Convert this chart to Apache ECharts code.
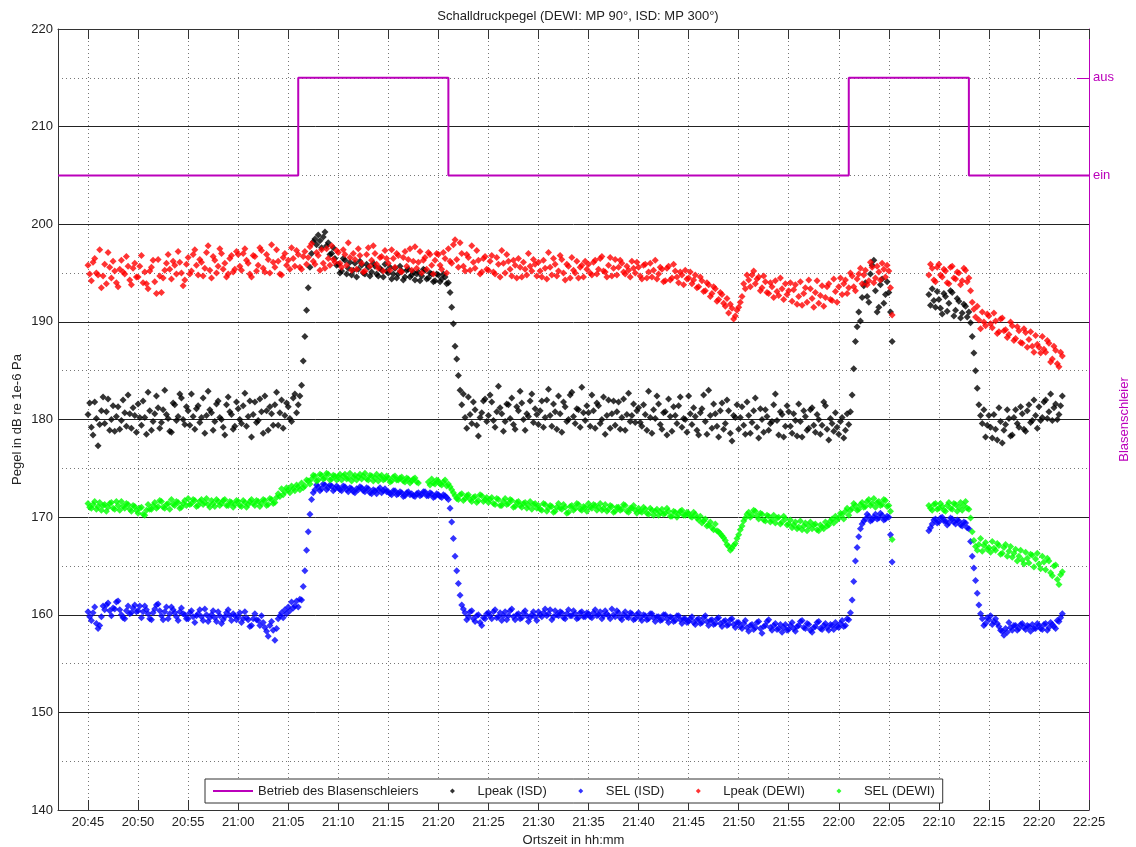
<!DOCTYPE html>
<html>
<head>
<meta charset="utf-8">
<title>Schalldruckpegel</title>
<script src="https://cdn.jsdelivr.net/npm/echarts@6/dist/echarts.min.js"></script>
<style>
  html, body { margin: 0; padding: 0; background: #fff; }
  #chart { width: 1136px; height: 847px; }
</style>
</head>
<body>
<div id="chart"></div>
<script>
// samples every 10 s starting 20:45 (null = no data)
const sampleStart = '20:45';
const sampleStepSec = 10;

const lpeakIsd = [
  180.5, 181.7, 179.2, 178.4, 181.8, 180.1, 177.3, 179.5, 180.9, 182.3, 179.6, 180.8, 182.1, 178.9, 180.0, 181.4, 178.8, 180.3, 181.3, 179.0, 179.9, 182.0, 180.7, 179.3, 182.5, 180.6, 179.1, 181.2, 180.4, 178.7,
  181.6, 180.2, 179.4, 181.9, 180.2, 178.5, 182.8, 180.9, 178.9, 179.8, 180.6, 182.4, 181.2, 179.1, 179.7, 181.0, 183.0, 180.5, 180.1, 178.8, 178.7, 181.7, 181.5, 179.9, 180.3, 182.6, 182.2, 180.0, 179.5, 181.3,
  180.9, 179.4, 182.6, 180.3, 179.0, 181.1, 181.4, 179.7, 180.2, 182.2, 178.6, 180.4, 182.9, 181.0, 180.7, 178.9, 179.8, 181.6, 181.9, 180.2, 180.0, 179.2, 178.4, 181.5, 182.3, 180.8, 180.5, 179.0, 179.3, 181.8,
  181.1, 180.0, 179.6, 181.4, 182.7, 179.3, 180.3, 181.9, 178.2, 180.5, 181.8, 179.7, 179.9, 182.1, 180.8, 178.6, 182.4, 180.9, 178.9, 181.3, 180.6, 179.4, 181.5, 182.8, 179.4, 180.7, 182.0, 179.1, 180.4, 181.7,
  181.3, 180.1, 179.8, 182.2, 182.6, 180.7, 181.5, 182.4, 183.5, 186.0, 188.5, 191.2, 193.5, 195.6, 197.0, 198.2, 198.5, 197.9, 198.9, 198.3, 197.6, 198.7, 199.2, 197.8, 198.1, 196.9, 197.0, 197.6, 196.5, 195.8,
  195.9, 195.0, 195.2, 196.5, 196.3, 194.9, 195.5, 196.1, 194.8, 195.3, 196.0, 194.6, 195.4, 196.2, 195.8, 195.0, 194.9, 195.9, 195.6, 194.7, 195.1, 196.0, 195.7, 194.9, 194.7, 195.5, 195.3, 194.6, 195.9, 195.2,
  195.0, 195.6, 194.4, 194.9, 195.5, 194.5, 194.9, 195.7, 195.2, 194.3, 194.6, 195.3, 195.4, 194.6, 194.8, 195.1, 194.3, 194.9, 195.1, 194.2, 194.7, 195.4, 195.3, 194.4, 194.5, 195.0, 194.9, 194.1, 194.2, 194.9,
  194.8, 194.1, 194.4, 194.9, 194.6, 193.9, 194.0, 193.0, 191.5, 189.8, 187.5, 186.2, 184.5, 183.0, 181.5, 182.6, 180.2, 179.1, 182.3, 180.5, 179.6, 181.8, 181.0, 179.4, 178.3, 180.2, 180.7, 181.9, 182.1, 179.8,
  180.4, 182.5, 181.8, 179.9, 179.2, 180.8, 183.4, 181.2, 180.6, 178.8, 179.8, 181.6, 181.5, 180.1, 182.2, 179.5, 179.0, 181.3, 180.9, 182.9, 181.7, 180.0, 178.9, 180.6, 180.3, 181.9, 182.6, 179.7, 181.1, 180.5,
  179.5, 180.9, 181.9, 179.2, 180.2, 182.0, 183.1, 180.4, 179.3, 181.6, 180.8, 179.0, 182.4, 180.6, 178.7, 181.8, 181.3, 179.8, 180.0, 182.5, 182.8, 180.3, 179.6, 181.1, 181.0, 179.2, 183.3, 180.7, 179.9, 181.4,
  180.7, 179.3, 182.5, 180.9, 179.1, 181.7, 181.4, 179.6, 180.0, 182.3, 178.5, 180.4, 182.0, 179.1, 180.6, 181.9, 179.4, 180.8, 181.8, 179.0, 180.2, 182.1, 178.9, 180.5, 182.7, 179.8, 180.4, 181.6, 179.7, 180.9,
  181.2, 179.7, 179.3, 181.5, 180.5, 178.9, 182.9, 180.2, 178.6, 181.0, 180.1, 182.4, 181.6, 179.5, 179.0, 180.7, 180.8, 178.4, 182.1, 180.3, 178.8, 181.3, 180.4, 179.6, 181.4, 182.3, 179.2, 180.1, 180.0, 178.7,
  182.4, 180.6, 179.5, 181.2, 180.3, 178.9, 178.4, 180.7, 181.1, 182.5, 179.8, 178.5, 183.0, 180.4, 179.1, 181.6, 180.6, 179.3, 178.2, 180.9, 181.7, 179.0, 179.6, 182.0, 180.9, 178.6, 177.8, 180.4, 180.2, 181.5,
  179.0, 180.2, 181.3, 179.4, 178.5, 181.8, 180.4, 178.6, 179.7, 180.9, 182.2, 179.2, 178.1, 181.1, 180.0, 178.7, 181.0, 180.3, 178.9, 179.6, 179.8, 181.5, 182.6, 179.9, 178.4, 180.8, 180.5, 178.2, 179.3, 181.4,
  180.8, 179.3, 178.6, 180.6, 179.9, 178.3, 181.6, 179.8, 178.2, 180.9, 180.3, 178.9, 179.1, 181.0, 181.2, 179.4, 178.7, 180.5, 180.0, 178.5, 179.4, 181.8, 181.4, 179.0, 177.9, 180.1, 179.6, 178.8, 180.7, 179.2,
  178.5, 179.8, 180.2, 178.1, 178.9, 180.6, 179.5, 180.8, 182.5, 185.2, 188.0, 189.5, 191.0, 190.1, 192.5, 193.7, 194.0, 192.6, 192.0, 194.9, 195.8, 196.3, 193.2, 191.0, 191.5, 193.8, 194.4, 191.9, 192.8, 194.1,
  193.0, 191.0, 188.0, null, null, null, null, null, null, null, null, null, null, null, null, null, null, null, null, null, null, null, null, null, 192.8, 191.7, 193.4, 192.2, 191.5, 193.1,
  192.3, 191.4, 190.8, 192.9, 192.6, 191.1, 191.9, 193.2, 193.0, 190.6, 191.2, 192.4, 192.1, 190.4, 190.9, 191.8, 191.6, 190.5, 191.0, 189.9, 188.5, 186.8, 185.0, 183.2, 181.5, 180.4, 179.6, 181.0, 178.2, 179.4,
  180.4, 179.2, 178.1, 180.5, 179.0, 177.9, 181.2, 179.8, 177.6, 178.9, 179.5, 181.0, 180.1, 178.3, 178.4, 180.2, 181.0, 179.6, 179.2, 181.3, 180.6, 179.0, 178.8, 180.9, 181.5, 179.7, 179.9, 182.0, 180.4, 179.1,
  181.3, 179.9, 180.2, 181.8, 182.0, 180.1, 180.8, 182.6, 179.9, 181.2, 181.6, 180.0, 180.5, 181.4, 182.4
];

const selIsd = [
  160.3, 159.8, 159.4, 160.2, 160.8, 159.1, 158.6, 158.9, 159.8, 160.9, 160.5, 161.0, 161.2, 160.4, 159.9, 160.7, 160.6, 161.3, 161.4, 160.5, 160.0, 159.7, 159.6, 160.4, 160.9, 160.1, 160.2, 160.7, 161.0, 160.3,
  160.4, 160.9, 159.7, 160.3, 160.9, 160.5, 160.1, 159.6, 159.5, 160.2, 160.6, 161.0, 161.1, 160.4, 159.9, 159.5, 160.3, 160.8, 159.6, 160.1, 160.8, 160.5, 160.2, 159.8, 159.4, 160.3, 160.7, 160.1, 160.0, 159.6,
  159.6, 160.2, 160.4, 159.8, 159.2, 159.9, 160.1, 160.5, 159.8, 159.4, 160.6, 160.0, 159.3, 159.7, 160.0, 160.4, 159.7, 159.3, 160.3, 159.9, 159.1, 159.5, 159.8, 160.2, 160.5, 159.9, 159.4, 160.1, 159.9, 159.5,
  159.8, 160.2, 159.2, 159.6, 160.3, 159.7, 159.5, 158.8, 158.9, 159.6, 160.1, 159.5, 159.4, 158.9, 159.9, 159.2, 158.7, 158.3, 157.8, 158.9, 159.3, 158.4, 157.4, 158.6, 159.6, 159.9, 160.2, 159.7, 160.5, 160.1,
  160.8, 160.4, 161.3, 160.7, 160.9, 161.4, 160.8, 161.6, 161.5, 162.9, 164.5, 166.6, 168.5, 170.3, 171.8, 172.5, 172.8, 173.3, 173.1, 172.7, 172.9, 173.4, 173.3, 172.8, 173.0, 173.3, 173.2, 172.7, 172.9, 173.2,
  173.0, 172.8, 172.7, 173.2, 173.1, 172.8, 172.6, 173.0, 172.9, 172.6, 172.5, 172.9, 172.8, 173.1, 173.0, 172.7, 172.6, 173.0, 172.9, 172.5, 172.4, 172.8, 172.7, 172.4, 172.8, 173.0, 172.5, 172.7, 172.9, 172.6,
  172.6, 172.4, 172.3, 172.7, 172.7, 172.3, 172.4, 172.6, 172.5, 172.1, 172.2, 172.5, 172.6, 172.3, 172.4, 172.2, 172.1, 172.4, 172.5, 172.2, 172.3, 172.6, 172.6, 172.2, 172.2, 172.5, 172.4, 172.0, 172.1, 172.4,
  172.3, 172.1, 172.0, 172.3, 172.2, 172.0, 171.8, 170.9, 169.5, 167.8, 166.0, 164.5, 163.2, 162.0, 161.0, 160.6, 160.2, 159.5, 159.8, 160.3, 160.4, 159.6, 159.3, 159.9, 160.0, 159.2, 158.9, 159.7, 159.6, 160.1,
  160.2, 159.9, 159.6, 160.3, 160.5, 159.7, 159.8, 160.2, 159.4, 159.9, 160.3, 159.5, 159.9, 160.4, 160.6, 159.8, 159.5, 160.0, 160.1, 159.6, 159.7, 160.2, 160.4, 159.9, 159.3, 159.7, 160.0, 160.3, 159.8, 159.4,
  160.3, 160.0, 159.8, 160.2, 160.6, 159.9, 160.1, 160.5, 159.5, 159.8, 160.4, 160.0, 159.9, 160.3, 160.2, 159.7, 159.6, 160.1, 160.5, 159.9, 159.9, 160.4, 160.1, 159.6, 159.7, 160.2, 160.3, 159.8, 159.8, 160.2,
  160.1, 159.8, 159.7, 160.2, 160.5, 159.9, 160.0, 160.3, 159.6, 159.9, 160.4, 160.1, 159.9, 159.6, 160.6, 160.0, 159.8, 160.4, 160.2, 159.7, 159.5, 160.0, 160.3, 159.8, 159.7, 160.2, 160.1, 159.5, 159.6, 160.0,
  160.2, 159.7, 159.4, 160.0, 159.9, 159.5, 159.6, 160.1, 160.1, 159.7, 159.3, 159.8, 159.8, 159.4, 159.5, 160.0, 160.0, 159.6, 159.2, 159.8, 159.7, 159.3, 159.4, 159.9, 159.9, 159.5, 159.1, 159.6, 159.6, 159.2,
  159.3, 159.6, 159.8, 159.2, 159.0, 159.5, 159.6, 159.1, 159.2, 159.7, 159.9, 159.3, 158.9, 159.4, 159.5, 159.0, 159.1, 159.6, 159.7, 159.1, 158.8, 159.3, 159.4, 158.9, 159.0, 159.5, 159.6, 159.0, 158.7, 159.2,
  159.2, 158.8, 158.6, 159.1, 159.4, 158.7, 158.3, 158.9, 159.0, 158.5, 158.7, 159.2, 159.3, 158.6, 158.1, 158.8, 158.9, 159.3, 159.5, 158.7, 158.4, 158.9, 159.1, 158.5, 158.6, 159.0, 158.2, 158.7, 159.0, 158.4,
  158.5, 158.9, 159.2, 158.6, 158.3, 158.8, 158.9, 159.3, 159.4, 158.7, 158.6, 159.1, 159.0, 158.4, 158.2, 158.7, 158.8, 159.2, 159.3, 158.6, 158.5, 158.9, 159.1, 158.7, 158.4, 159.0, 158.9, 158.5, 159.2, 158.8,
  158.7, 159.1, 159.4, 158.8, 158.9, 159.6, 159.5, 160.2, 161.5, 163.4, 165.5, 166.9, 168.0, 168.8, 169.3, 169.6, 169.8, 170.3, 170.1, 169.6, 169.7, 170.0, 170.3, 169.8, 169.9, 170.4, 170.2, 169.7, 169.8, 170.1,
  170.0, 168.2, 165.4, null, null, null, null, null, null, null, null, null, null, null, null, null, null, null, null, null, null, null, null, null, 168.6, 168.9, 169.3, 169.7, 169.8, 169.4,
  169.5, 169.9, 170.0, 169.6, 169.6, 169.2, 169.4, 169.9, 169.8, 169.5, 169.3, 169.7, 169.6, 169.2, 169.1, 169.5, 169.4, 168.9, 168.8, 167.5, 166.0, 164.8, 163.5, 162.2, 161.0, 160.1, 159.6, 158.9, 159.1, 159.7,
  159.5, 159.9, 159.0, 159.3, 159.6, 159.1, 158.8, 158.4, 158.3, 157.9, 158.6, 158.2, 159.2, 158.7, 158.4, 158.9, 158.9, 158.4, 158.6, 159.0, 159.1, 158.7, 158.5, 158.9, 158.8, 158.3, 159.0, 158.6, 158.6, 159.1,
  158.9, 158.6, 158.5, 159.0, 159.1, 158.4, 158.7, 159.2, 159.0, 158.8, 158.6, 159.4, 159.3, 159.7, 160.1
];

const lpeakDewi = [
  195.8, 194.9, 194.2, 196.1, 196.5, 195.0, 194.8, 197.4, 193.5, 194.7, 195.9, 193.9, 197.1, 195.6, 194.5, 196.2, 195.2, 194.0, 193.6, 195.4, 196.3, 195.1, 194.9, 196.7, 195.7, 194.3, 193.8, 195.5, 196.0, 194.6,
  194.6, 195.7, 196.8, 194.0, 195.1, 193.9, 193.4, 195.2, 195.6, 196.3, 194.1, 192.9, 196.4, 194.7, 193.0, 194.5, 195.3, 196.0, 196.9, 195.4, 194.4, 196.2, 195.8, 194.9, 197.2, 196.1, 195.0, 193.7, 194.3, 195.9,
  196.6, 194.9, 195.2, 196.9, 197.4, 195.8, 194.8, 196.4, 196.1, 194.7, 195.5, 197.1, 197.8, 195.3, 194.5, 196.7, 196.3, 195.0, 195.7, 197.5, 197.0, 195.4, 196.0, 194.6, 194.9, 196.5, 196.8, 195.1, 195.4, 197.2,
  196.9, 195.7, 195.3, 197.0, 197.5, 196.3, 196.0, 194.9, 194.6, 196.8, 196.7, 195.2, 195.8, 197.6, 197.3, 195.5, 195.1, 196.9, 196.4, 195.0, 197.9, 196.1, 195.6, 197.4, 196.2, 194.9, 194.8, 196.6, 197.0, 195.8,
  196.3, 195.4, 197.6, 196.5, 195.7, 197.3, 196.9, 195.6, 195.4, 196.7, 197.2, 195.9, 196.6, 197.7, 198.0, 196.2, 195.9, 197.1, 196.8, 195.3, 197.4, 196.0, 195.5, 197.5, 196.5, 195.8, 197.8, 196.4, 196.1, 197.3,
  197.1, 196.0, 195.6, 197.4, 196.9, 195.8, 198.1, 196.6, 195.3, 197.0, 196.4, 195.4, 197.5, 196.8, 196.0, 195.1, 195.2, 196.9, 197.6, 195.7, 196.3, 197.8, 197.0, 195.9, 195.5, 196.6, 196.7, 195.2, 197.3, 196.5,
  196.0, 195.3, 197.4, 196.5, 195.6, 197.0, 196.8, 195.2, 195.1, 196.6, 197.2, 195.7, 196.4, 197.5, 195.3, 196.2, 197.7, 195.5, 196.1, 197.2, 195.0, 196.3, 196.6, 195.4, 197.1, 196.9, 195.8, 194.9, 196.3, 197.0,
  196.9, 195.8, 195.4, 197.1, 196.5, 195.0, 197.5, 196.2, 196.0, 197.9, 198.4, 196.4, 195.6, 198.1, 197.0, 195.7, 195.2, 196.9, 196.6, 195.3, 197.8, 196.1, 195.5, 197.3, 196.3, 194.9, 195.1, 196.5, 196.7, 195.4,
  195.3, 196.2, 196.8, 195.1, 194.9, 196.6, 195.9, 194.6, 197.3, 196.0, 195.0, 196.9, 196.2, 195.4, 194.7, 196.3, 195.8, 194.5, 196.5, 195.6, 194.6, 196.1, 195.4, 194.8, 197.0, 195.7, 195.2, 196.4, 195.9, 194.7,
  196.1, 195.2, 194.6, 196.3, 195.5, 194.4, 197.1, 195.6, 194.8, 196.5, 195.9, 194.7, 195.2, 196.8, 196.4, 195.0, 194.3, 195.9, 195.7, 194.5, 196.6, 195.3, 195.0, 196.2, 194.5, 195.6, 195.8, 194.6, 196.2, 195.4,
  195.9, 195.0, 194.8, 196.1, 196.3, 194.9, 195.4, 196.5, 196.7, 195.2, 195.1, 194.6, 195.8, 196.6, 194.7, 195.5, 196.4, 194.8, 195.6, 196.3, 196.0, 195.1, 194.9, 195.7, 195.3, 194.6, 196.2, 195.5, 195.0, 196.1,
  195.6, 194.7, 194.4, 195.8, 195.9, 194.5, 195.1, 196.0, 194.6, 195.3, 196.3, 194.4, 194.9, 195.6, 195.4, 194.1, 194.2, 195.5, 195.7, 194.3, 194.5, 195.9, 195.2, 194.6, 194.0, 195.1, 194.8, 193.8, 195.3, 194.4,
  194.5, 195.1, 193.9, 194.3, 194.8, 193.5, 193.6, 194.6, 194.2, 193.1, 193.2, 194.0, 193.8, 192.6, 192.9, 193.6, 193.4, 192.1, 192.3, 193.0, 192.8, 191.9, 191.6, 192.4, 190.9, 191.8, 191.4, 190.3, 190.6, 191.2,
  191.5, 192.0, 192.6, 193.9, 193.4, 194.8, 194.3, 193.6, 194.8, 195.2, 193.9, 194.4, 194.6, 193.2, 193.5, 194.7, 194.1, 193.0, 192.9, 194.0, 193.6, 192.5, 194.2, 193.1, 192.7, 194.5, 193.4, 192.3, 193.9, 192.8,
  193.2, 194.0, 192.1, 193.3, 193.8, 191.8, 192.6, 194.1, 191.7, 192.9, 193.5, 192.0, 194.3, 193.4, 192.4, 191.5, 193.0, 194.2, 191.9, 192.7, 193.7, 191.6, 192.5, 193.6, 193.9, 192.3, 192.2, 194.4, 193.1, 192.0,
  193.6, 194.5, 192.8, 193.9, 194.3, 192.9, 193.5, 195.0, 194.7, 193.6, 193.2, 194.4, 194.9, 195.5, 193.9, 194.8, 195.3, 193.8, 194.2, 196.1, 195.6, 194.0, 194.5, 195.7, 195.1, 194.3, 196.0, 195.4, 194.6, 195.8,
  195.2, 193.5, 190.7, null, null, null, null, null, null, null, null, null, null, null, null, null, null, null, null, null, null, null, null, null, 194.8, 195.9, 195.5, 194.3, 194.1, 195.6,
  195.9, 194.8, 194.6, 195.4, 195.2, 194.0, 193.9, 195.6, 195.7, 194.5, 194.4, 195.1, 195.0, 193.8, 194.2, 195.5, 195.3, 194.1, 194.5, 193.2, 192.0, 191.3, 190.5, 191.6, 190.2, 189.3, 191.0, 190.0, 189.6, 190.8,
  190.6, 189.8, 189.4, 190.9, 190.1, 188.8, 189.0, 190.3, 190.4, 189.1, 189.2, 188.4, 188.7, 190.0, 189.6, 188.1, 188.3, 189.5, 189.1, 187.9, 187.8, 189.3, 188.9, 187.4, 188.2, 189.0, 187.5, 186.9, 188.6, 187.7,
  187.4, 186.8, 188.5, 187.2, 186.9, 188.1, 187.8, 185.9, 186.2, 187.5, 187.1, 185.7, 185.4, 186.9, 186.5
];

const selDewi = [
  171.4, 171.0, 170.9, 171.3, 171.6, 170.8, 171.1, 171.5, 170.7, 171.2, 171.3, 170.6, 171.0, 171.4, 171.5, 170.9, 170.8, 171.6, 171.2, 170.7, 171.6, 171.1, 170.9, 171.4, 171.3, 170.8, 170.6, 171.2, 171.1, 170.7,
  170.4, 170.9, 171.0, 170.3, 170.2, 170.7, 171.3, 170.8, 170.8, 171.2, 171.5, 170.9, 171.1, 171.7, 171.6, 171.0, 170.9, 171.3, 171.4, 170.8, 171.8, 171.3, 171.2, 171.6, 171.5, 170.9, 171.0, 171.4, 171.7, 171.2,
  171.9, 171.3, 171.4, 171.8, 171.7, 171.1, 171.2, 171.6, 171.8, 171.3, 171.5, 171.9, 171.3, 171.0, 171.7, 171.4, 171.1, 171.8, 171.6, 171.2, 171.4, 171.7, 171.8, 171.2, 171.2, 171.6, 171.5, 171.0, 171.3, 171.7,
  171.6, 171.2, 171.1, 171.7, 171.5, 171.0, 171.3, 171.6, 171.8, 171.4, 171.2, 171.7, 171.6, 171.1, 171.4, 171.8, 171.7, 171.2, 171.3, 171.9, 171.8, 171.4, 171.5, 172.0, 172.4, 172.1, 172.9, 172.3, 172.6, 173.0,
  172.8, 172.5, 173.2, 172.9, 172.7, 173.3, 173.1, 172.8, 173.5, 173.0, 173.2, 173.8, 173.7, 173.4, 173.9, 174.3, 174.2, 173.7, 173.8, 174.4, 174.3, 173.9, 174.0, 174.5, 174.4, 173.8, 173.9, 174.3, 174.2, 173.8,
  174.1, 174.4, 173.8, 174.2, 174.4, 173.9, 174.0, 174.5, 173.7, 174.1, 174.3, 173.8, 174.1, 174.4, 173.9, 174.2, 174.5, 173.9, 173.8, 174.3, 174.2, 173.7, 174.0, 174.4, 173.7, 174.1, 174.3, 173.8, 173.9, 174.2,
  174.0, 173.6, 173.7, 174.1, 174.2, 173.8, 173.8, 174.0, 174.1, 173.7, 173.6, 174.0, 173.9, 173.5, 173.7, 173.9, 174.0, 173.6, 173.5, null, null, null, null, null, 173.6, 173.3, 173.9, 173.5, 173.4, 173.8,
  173.7, 173.4, 173.3, 173.6, 173.8, 173.2, 173.4, 173.1, 172.8, 172.5, 172.2, 171.9, 171.8, 172.3, 172.4, 171.7, 171.9, 172.2, 172.3, 171.8, 171.6, 172.0, 172.1, 171.5, 171.7, 172.3, 172.2, 171.6, 171.8, 172.0,
  171.5, 171.8, 172.0, 171.4, 171.3, 171.9, 171.8, 171.2, 171.2, 171.6, 171.9, 171.3, 171.4, 171.8, 171.7, 171.0, 171.1, 171.5, 171.6, 171.2, 171.0, 171.4, 171.5, 170.9, 171.2, 171.6, 170.8, 171.3, 171.4, 170.9,
  171.2, 170.8, 170.7, 171.4, 171.3, 170.6, 170.9, 171.2, 171.1, 170.5, 170.6, 171.0, 171.4, 170.9, 170.8, 171.3, 171.0, 170.4, 170.5, 171.1, 171.2, 170.7, 170.9, 171.4, 171.3, 170.8, 170.7, 171.1, 171.0, 170.6,
  171.4, 171.0, 170.9, 171.3, 171.2, 170.7, 171.0, 171.4, 170.7, 170.9, 171.3, 170.6, 170.8, 171.2, 171.1, 170.5, 170.6, 171.0, 171.0, 170.7, 170.8, 171.3, 171.2, 170.6, 170.5, 170.9, 170.9, 171.2, 170.7, 170.4,
  170.9, 170.6, 170.5, 171.0, 170.8, 170.4, 170.3, 170.9, 170.7, 170.2, 170.6, 170.8, 170.2, 170.5, 170.8, 170.3, 170.4, 170.9, 170.6, 170.1, 170.1, 170.6, 170.5, 170.0, 170.3, 170.6, 170.7, 170.2, 170.2, 170.5,
  170.4, 170.1, 170.0, 170.5, 170.3, 169.9, 169.7, 170.1, 169.4, 169.6, 169.8, 169.1, 169.2, 169.5, 168.9, 168.7, 169.3, 168.6, 168.5, 168.3, 168.1, 167.9, 167.6, 167.2, 167.0, 166.6, 166.8, 167.1, 167.3, 167.8,
  168.2, 168.7, 169.1, 169.6, 169.9, 170.3, 170.5, 170.0, 170.2, 170.7, 170.6, 170.1, 169.8, 170.4, 170.3, 169.7, 169.6, 170.2, 170.1, 169.5, 169.7, 170.2, 169.4, 169.9, 170.0, 169.3, 169.5, 170.1, 169.8, 169.2,
  169.3, 169.7, 168.9, 169.2, 169.5, 168.8, 169.0, 169.6, 168.7, 169.1, 169.4, 168.6, 169.1, 169.5, 168.8, 169.2, 169.3, 168.7, 168.6, 169.2, 169.0, 168.8, 169.5, 169.1, 169.2, 169.6, 169.8, 169.4, 170.1, 169.7,
  169.9, 170.4, 170.3, 169.8, 170.6, 170.9, 170.2, 170.7, 170.9, 171.4, 171.2, 170.7, 170.8, 171.3, 171.5, 171.0, 171.1, 171.6, 171.8, 171.2, 171.4, 171.9, 171.0, 171.5, 171.6, 171.2, 171.3, 171.8, 171.7, 171.1,
  171.2, 170.6, 167.7, null, null, null, null, null, null, null, null, null, null, null, null, null, null, null, null, null, null, null, null, null, 171.2, 170.9, 170.7, 171.3, 171.4, 170.8,
  170.9, 171.4, 171.1, 170.7, 170.6, 171.2, 171.5, 170.9, 170.8, 171.4, 171.3, 170.6, 171.0, 171.5, 170.7, 171.2, 171.6, 170.9, 170.8, 169.9, 168.5, 167.6, 167.0, 166.6, 167.2, 167.8, 166.5, 167.1, 167.4, 166.7,
  166.9, 166.4, 167.5, 166.8, 166.6, 167.3, 167.1, 166.2, 166.3, 166.9, 167.2, 166.0, 166.5, 167.0, 165.9, 166.3, 166.7, 165.5, 166.0, 166.6, 165.6, 165.2, 166.4, 165.8, 165.3, 166.2, 166.1, 164.9, 165.7, 166.3,
  165.2, 164.7, 166.0, 165.4, 164.6, 165.8, 165.5, 164.3, 164.0, 165.0, 165.1, 163.6, 163.1, 164.1, 164.4
];

// bubble curtain operation: state holds from each time until the next
const blasenTimes = ['20:42', '21:06', '21:21', '22:01', '22:13', '22:25'];
const blasenStates = ['ein', 'aus', 'ein', 'aus', 'ein', 'ein'];
const stateLevel = { ein: 205, aus: 215 };

const xTickLabels = ['20:45', '20:50', '20:55', '21:00', '21:05', '21:10', '21:15', '21:20', '21:25',
  '21:30', '21:35', '21:40', '21:45', '21:50', '21:55', '22:00', '22:05', '22:10', '22:15', '22:20', '22:25'];

(function () {
    const chart = echarts.init(document.getElementById('chart'));
    const font = 'Liberation Sans, Arial, Helvetica, sans-serif';
    const txt = '#222';
    const magenta = '#bb00bb';

    function toMin(s) {
        const p = s.split(':');
        return +p[0] * 60 + +p[1];
    }
    function fmt(v) {
        const h = Math.floor(v / 60);
        const m = Math.round(v - h * 60);
        return h + ':' + (m < 10 ? '0' : '') + m;
    }
    const t0 = toMin(sampleStart);
    function pairs(vals) {
        const out = [];
        vals.forEach((v, i) => {
            if (v !== null) out.push([t0 + i * sampleStepSec / 60, v]);
        });
        return out;
    }

    const xTicks = xTickLabels.map(toMin);
    const xMin = toMin(blasenTimes[0]);
    const xMax = toMin(blasenTimes[blasenTimes.length - 1]);
    // legend icons: 40x14 box, tiny diamond / thin bar inside
    const dotIcon = 'path://M0 0M40 14M20 4.5L22.5 7L20 9.5L17.5 7Z';
    const barIcon = 'path://M0 0M40 14M0 6L40 6L40 8L0 8Z';

    function dots(name, vals, color) {
        return {
            name: name,
            type: 'scatter',
            data: pairs(vals),
            symbol: 'diamond',
            symbolSize: 7,
            itemStyle: { color: color },
            silent: true
        };
    }

    const option = {
        animation: false,
        backgroundColor: '#fff',
        textStyle: { fontFamily: font },
        title: {
            text: 'Schalldruckpegel (DEWI: MP 90°, ISD: MP 300°)',
            left: 573,
            textAlign: 'center',
            top: 5,
            textStyle: { fontSize: 13, fontWeight: 'normal', color: txt, fontFamily: font }
        },
        grid: { left: 58, right: 47, top: 29, bottom: 37, outerBoundsMode: 'none' },
        legend: {
            left: 205,
            top: 779,
            itemWidth: 40,
            itemHeight: 14,
            itemGap: 14,
            padding: [5, 8],
            backgroundColor: '#fff',
            borderColor: '#333',
            borderWidth: 1,
            borderRadius: 0,
            selectedMode: false,
            textStyle: { fontSize: 13, color: txt, fontFamily: font },
            data: [
                { name: 'Betrieb des Blasenschleiers', icon: barIcon },
                { name: 'Lpeak (ISD)', icon: dotIcon },
                { name: 'SEL (ISD)', icon: dotIcon },
                { name: 'Lpeak (DEWI)', icon: dotIcon },
                { name: 'SEL (DEWI)', icon: dotIcon }
            ]
        },
        xAxis: [
            {
                type: 'value',
                position: 'bottom',
                min: xMin,
                max: xMax,
                name: 'Ortszeit in hh:mm',
                nameLocation: 'middle',
                nameGap: 24,
                nameTextStyle: { fontSize: 13, color: txt },
                axisLine: { lineStyle: { color: '#333', width: 1 } },
                axisTick: { inside: true, length: 10, customValues: xTicks, lineStyle: { color: '#333' } },
                axisLabel: { customValues: xTicks, formatter: fmt, fontSize: 13, color: txt, margin: 6 },
                splitLine: { show: true, lineStyle: { color: '#777', type: [1, 3], width: 1 } }
            },
            {
                type: 'value',
                position: 'top',
                min: xMin,
                max: xMax,
                axisLine: { lineStyle: { color: '#333', width: 1 } },
                axisTick: { inside: true, length: 10, customValues: xTicks, lineStyle: { color: '#333' } },
                axisLabel: { show: false },
                splitLine: { show: false }
            }
        ],
        yAxis: [
            {
                type: 'value',
                position: 'left',
                min: 140,
                max: 220,
                interval: 10,
                name: 'Pegel in dB re 1e-6 Pa',
                nameLocation: 'middle',
                nameRotate: 90,
                nameGap: 34,
                nameMoveOverlap: false,
                nameTextStyle: { fontSize: 13, color: txt },
                axisLine: { show: true, lineStyle: { color: '#333', width: 1 } },
                axisTick: { show: false },
                axisLabel: { fontSize: 13, color: txt, margin: 5 },
                splitLine: { show: true, lineStyle: { color: '#222', width: 1 } },
                minorTick: { show: false, splitNumber: 2 },
                minorSplitLine: { show: true, lineStyle: { color: '#777', type: [1, 3], width: 1 } }
            },
            {
                type: 'value',
                position: 'right',
                min: 140,
                max: 220,
                name: 'Blasenschleier',
                nameLocation: 'middle',
                nameRotate: 90,
                nameGap: 29,
                nameMoveOverlap: false,
                nameTextStyle: { fontSize: 13, color: magenta },
                axisLine: { show: true, lineStyle: { color: magenta, width: 1 } },
                axisTick: {
                    show: true, inside: true, length: 12,
                    customValues: [stateLevel.ein, stateLevel.aus],
                    lineStyle: { color: magenta }
                },
                axisLabel: {
                    customValues: [stateLevel.ein, stateLevel.aus],
                    formatter: (v) => (v === stateLevel.aus ? 'aus' : 'ein'),
                    fontSize: 13, color: magenta, margin: 4
                },
                splitLine: { show: false }
            }
        ],
        series: [
            {
                name: 'Betrieb des Blasenschleiers',
                type: 'line',
                step: 'end',
                symbol: 'none',
                data: blasenTimes.map((t, i) => [toMin(t), stateLevel[blasenStates[i]]]),
                lineStyle: { color: magenta, width: 2 },
                itemStyle: { color: magenta },
                silent: true
            },
            dots('Lpeak (ISD)', lpeakIsd, '#000000'),
            dots('SEL (ISD)', selIsd, '#0000ff'),
            dots('Lpeak (DEWI)', lpeakDewi, '#ff0000'),
            dots('SEL (DEWI)', selDewi, '#00ff00')
        ]
    };

    chart.setOption(option);
})();
</script>
</body>
</html>
